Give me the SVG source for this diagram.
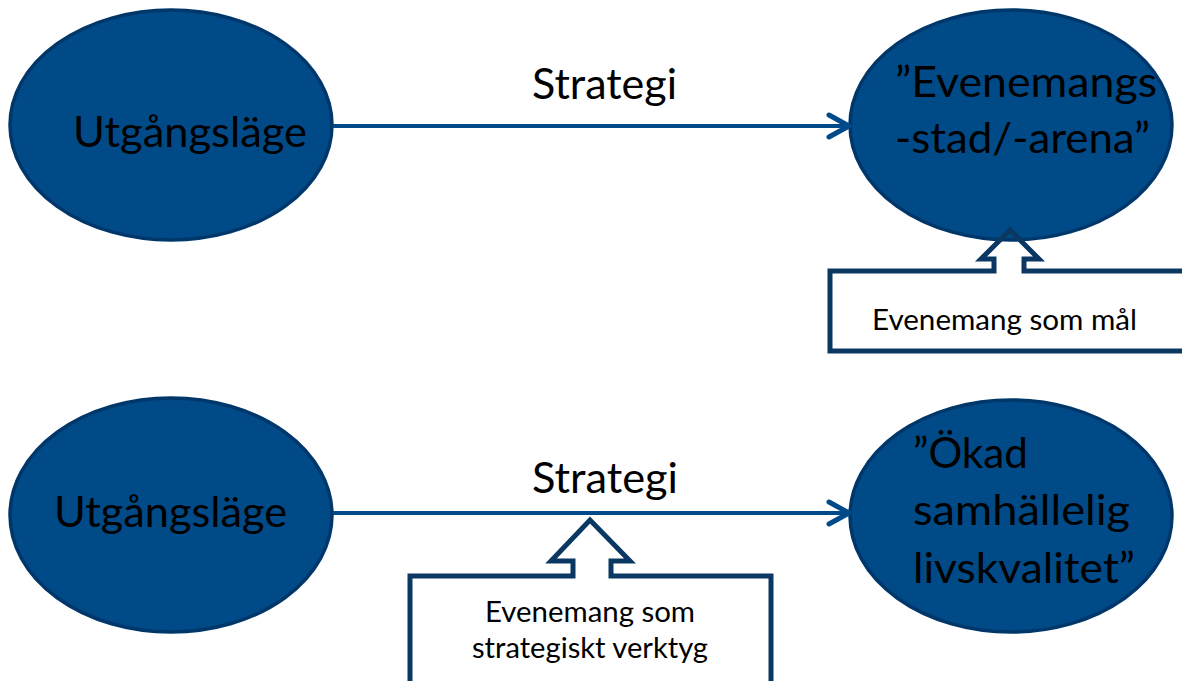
<svg xmlns="http://www.w3.org/2000/svg" width="1182" height="681" viewBox="0 0 1182 681">
<style>
.node{fill:#004A87;stroke:#00376A;stroke-width:3.5}
.big{font-family:Lato,"Open Sans","Liberation Sans",sans-serif;font-size:42px;fill:#000}
.small{font-family:Lato,"Open Sans","Liberation Sans",sans-serif;font-size:28px;fill:#000}
.conn{stroke:#004A8A;stroke-width:4;fill:none}
.head{stroke:#004A8A;stroke-width:5;fill:none;stroke-linecap:round;stroke-linejoin:round}
.callout{fill:none;stroke:#0B3862;stroke-width:5;stroke-linejoin:miter}
</style>
<rect width="1182" height="681" fill="#FFFFFF"/>
<g id="n1">
<ellipse class="node" cx="171" cy="125" rx="161" ry="115"/>
<text class="big" x="73" y="147" textLength="234" lengthAdjust="spacingAndGlyphs">Utgångsläge</text>
</g>
<g id="n2">
<ellipse class="node" cx="1011" cy="125" rx="161" ry="115"/>
<text class="big" x="895" y="97" textLength="262" lengthAdjust="spacingAndGlyphs">”Evenemangs</text>
<text class="big" x="895" y="153" textLength="255" lengthAdjust="spacingAndGlyphs">-stad/-arena”</text>
</g>
<g id="n3">
<ellipse class="node" cx="171" cy="515" rx="161" ry="117"/>
<text class="big" x="54" y="527" textLength="233" lengthAdjust="spacingAndGlyphs">Utgångsläge</text>
</g>
<g id="n4">
<ellipse class="node" cx="1011" cy="516" rx="161" ry="116"/>
<text class="big" x="913" y="468" textLength="115" lengthAdjust="spacingAndGlyphs">”Ökad</text>
<text class="big" x="913" y="525" textLength="217" lengthAdjust="spacingAndGlyphs">samhällelig</text>
<text class="big" x="913" y="583" textLength="222" lengthAdjust="spacingAndGlyphs">livskvalitet”</text>
</g>
<g id="connectors">
<line class="conn" x1="333" y1="126" x2="849" y2="126"/>
<polyline class="head" points="829,115 849,126 829,137"/>
<text class="big" x="532" y="99" textLength="145" lengthAdjust="spacingAndGlyphs">Strategi</text>
<line class="conn" x1="333" y1="513" x2="849" y2="513"/>
<polyline class="head" points="829,502 849,513 829,524"/>
<text class="big" x="532" y="493" textLength="146" lengthAdjust="spacingAndGlyphs">Strategi</text>
</g>
<g id="callout1">
<path class="callout" d="M830 271 L994 271 L994 259 L981 259 L1010 230 L1039 259 L1024 259 L1024 271 L1190 271 L1190 351 L830 351 Z"/>
<text class="small" x="872" y="330" textLength="265" lengthAdjust="spacingAndGlyphs">Evenemang som mål</text>
</g>
<g id="callout2">
<path class="callout" d="M410 576 L573 576 L573 561 L551 561 L590 520 L630 561 L611 561 L611 576 L771 576 L771 690 L410 690 Z"/>
<text class="small" x="485" y="622" textLength="210" lengthAdjust="spacingAndGlyphs">Evenemang som</text>
<text class="small" x="472" y="658" textLength="236" lengthAdjust="spacingAndGlyphs">strategiskt verktyg</text>
</g>
</svg>
